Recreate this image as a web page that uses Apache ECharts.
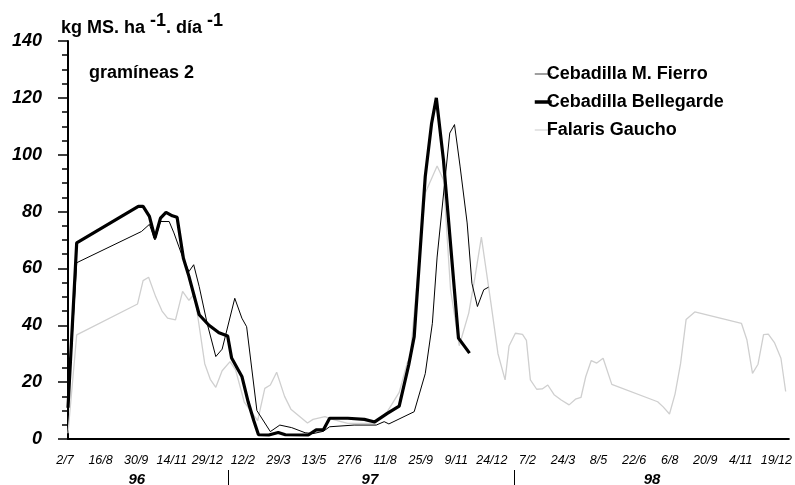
<!DOCTYPE html>
<html><head><meta charset="utf-8">
<script src="https://cdn.jsdelivr.net/npm/echarts@6/dist/echarts.min.js"></script>
<style>html,body{margin:0;padding:0;background:#fff}#c{width:795px;height:485px}</style>
</head><body><div id="c"></div>
<script>
// x values are days counted from 2/7/1996
const startDateUTC = Date.UTC(1996, 6, 2);
const xMaxDays = 912;
const xTickInterval = 45;
const yTicks = [0, 20, 40, 60, 80, 100, 120, 140];
const yearLabels = ['96', '97', '98'];
const yearLabelDays = [87, 382, 739];
const yearSeparatorDays = [203, 564];
const seriesNames = ['Cebadilla M. Fierro', 'Cebadilla Bellegarde', 'Falaris Gaucho'];

const fierroDays = [0, 11, 93, 103, 110, 117, 128, 134, 145, 153, 159, 166, 176, 187, 195, 211, 220, 226, 239, 256, 268, 283, 300, 310, 323, 331, 362, 390, 400, 406, 438, 452, 461, 467, 483, 489, 496, 505, 511, 518, 526, 532];
const fierroVals = [11, 62, 73, 75.5, 70, 76.5, 76.5, 72.5, 64, 58.9, 61.3, 53.6, 40.7, 29, 31.6, 49.5, 42.5, 39.5, 10, 2.6, 4.9, 4, 2.2, 1.9, 2.7, 4.3, 4.9, 4.9, 6.1, 5.3, 9.6, 23, 40.7, 64, 107.6, 110.6, 96, 76, 54.8, 46.6, 52.5, 53.4];

const bellegardeDays = [0, 11, 89, 95, 103, 110, 117, 124, 132, 138, 146, 153, 166, 178, 191, 202, 207, 220, 228, 235, 241, 254, 266, 275, 304, 314, 323, 331, 354, 375, 388, 404, 419, 431, 438, 452, 460, 466, 475, 494, 508];
const bellegardeVals = [11, 69, 81.8, 81.8, 78.3, 70.7, 77.7, 79.7, 78.5, 78, 63.6, 57.2, 43.7, 40.1, 37.4, 36.2, 28.5, 22, 13, 6.5, 1.5, 1.4, 2.3, 1.5, 1.4, 3.2, 3.2, 7.3, 7.3, 6.9, 6.0, 9.0, 11.6, 26, 36, 92.4, 111, 120, 98.2, 35.5, 30.2];

const falarisDays = [0, 11, 88, 95, 102, 111, 119, 126, 136, 145, 153, 160, 173, 180, 187, 195, 205, 212, 223, 240, 249, 256, 264, 274, 282, 303, 310, 325, 337, 354, 388, 404, 419, 429, 433, 452, 467, 475, 484, 495, 507, 515, 523, 535, 544, 553, 558, 566, 575, 580, 585, 593, 600, 607, 615, 624, 634, 642, 649, 655, 662, 669, 677, 688, 746, 753, 761, 768, 775, 782, 793, 852, 859, 866, 873, 880, 886, 894, 902, 908];
const falarisVals = [2, 36.6, 47.5, 55.7, 56.9, 50, 45, 42.5, 41.9, 51.9, 48.8, 51, 26.5, 21, 18.2, 24, 27.2, 24.3, 13, 6.5, 17.8, 19, 23.5, 15, 10.5, 5.6, 6.9, 7.9, 6.7, 5.5, 5.5, 9.6, 16.4, 26.6, 29, 86.5, 96, 91.2, 52.5, 32.8, 44.3, 57.1, 71, 48, 30, 20.8, 32.7, 37.2, 36.8, 34.7, 20.8, 17.5, 17.6, 19, 15.6, 13.7, 12, 14, 14.6, 21.9, 27.6, 26.7, 28.4, 19.2, 13.1, 11.3, 8.8, 15.8, 26.5, 42, 44.7, 40.7, 34.8, 23.1, 26.3, 36.7, 36.9, 33.8, 28.4, 16.7];

const FONT = '"Liberation Sans", Arial, Helvetica, sans-serif';
function pairs(xs, ys) { return xs.map((x, i) => [x, ys[i]]); }
function dayLabel(v) {
  const d = new Date(startDateUTC + v * 86400000);
  return d.getUTCDate() + '/' + (d.getUTCMonth() + 1);
}

const chart = echarts.init(document.getElementById('c'), null, { renderer: 'canvas' });
const option = {
  animation: false,
  backgroundColor: '#fff',
  grid: { left: 68, right: 0, top: 41, bottom: 46 },
  legend: {
    data: [
      { name: seriesNames[0], lineStyle: { width: 1.5, color: '#808080' } },
      { name: seriesNames[1], lineStyle: { width: 3.5, color: '#000' } },
      { name: seriesNames[2], lineStyle: { width: 1.5, color: '#dcdcdc' } }
    ],
    orient: 'vertical',
    left: 528,
    top: 60,
    itemWidth: 17,
    itemHeight: 12,
    itemGap: 10,
    itemStyle: { opacity: 0 },
    textStyle: { fontFamily: FONT, fontSize: 18, fontWeight: 'bold', color: '#000', padding: [0, 0, 0, -10] }
  },
  xAxis: {
    type: 'value',
    min: 0,
    max: xMaxDays,
    interval: xTickInterval,
    axisLine: { show: true, lineStyle: { color: '#000', width: 2 } },
    axisTick: { show: false },
    splitLine: { show: false },
    axisLabel: {
      formatter: dayLabel,
      showMaxLabel: false,
      fontFamily: FONT, fontSize: 12.5, fontStyle: 'italic', color: '#000',
      margin: 15,
      padding: [0, 6, 0, 0]
    }
  },
  yAxis: {
    type: 'value',
    min: yTicks[0],
    max: yTicks[yTicks.length - 1],
    interval: yTicks[1] - yTicks[0],
    axisLine: { show: true, lineStyle: { color: '#000', width: 2 } },
    axisTick: { show: true, length: 10, lineStyle: { color: '#000', width: 1.5 } },
    minorTick: { show: true, splitNumber: 4, length: 6, lineStyle: { color: '#000', width: 1.5 } },
    splitLine: { show: false },
    axisLabel: {
      fontFamily: FONT, fontSize: 18, fontStyle: 'italic', fontWeight: 'bold', color: '#000',
      margin: 26
    }
  },
  series: [
    { name: seriesNames[0], type: 'line', z: 3, symbol: 'none', data: pairs(fierroDays, fierroVals),
      lineStyle: { color: '#000', width: 1 }, itemStyle: { color: '#000' } },
    { name: seriesNames[1], type: 'line', z: 4, symbol: 'none', data: pairs(bellegardeDays, bellegardeVals),
      lineStyle: { color: '#000', width: 3.2 }, itemStyle: { color: '#000' } },
    { name: seriesNames[2], type: 'line', z: 2, symbol: 'none', data: pairs(falarisDays, falarisVals),
      lineStyle: { color: '#cfcfcf', width: 1.3 }, itemStyle: { color: '#cfcfcf' } }
  ]
};
chart.setOption(option);

const graphics = [
  {
    type: 'text', left: 61, top: 12,
    style: {
      text: '{m|kg MS. ha }{s|-1}{m|. día }{s|-1}',
      rich: {
        m: { fontFamily: FONT, fontSize: 18, fontWeight: 'bold', fill: '#000', lineHeight: 32 },
        s: { fontFamily: FONT, fontSize: 18, fontWeight: 'bold', fill: '#000', lineHeight: 18, verticalAlign: 'top' }
      }
    }
  },
  {
    type: 'text', left: 89, top: 64,
    style: { text: 'gramíneas 2', fontFamily: FONT, fontSize: 18, fontWeight: 'bold', fill: '#000' }
  }
];
yearLabels.forEach((t, i) => {
  const x = chart.convertToPixel({ xAxisIndex: 0 }, yearLabelDays[i]);
  graphics.push({
    type: 'text', x: x, y: 480,
    style: { text: t, fontFamily: FONT, fontSize: 15, fontWeight: 'bold', fontStyle: 'italic', fill: '#000',
      align: 'center', verticalAlign: 'middle' }
  });
});
yearSeparatorDays.forEach(d => {
  const x = Math.round(chart.convertToPixel({ xAxisIndex: 0 }, d)) + 0.5;
  graphics.push({
    type: 'line', shape: { x1: x, y1: 470, x2: x, y2: 485 },
    style: { stroke: '#000', lineWidth: 1 }
  });
});
chart.setOption({ graphic: graphics });
</script>
</body></html>
